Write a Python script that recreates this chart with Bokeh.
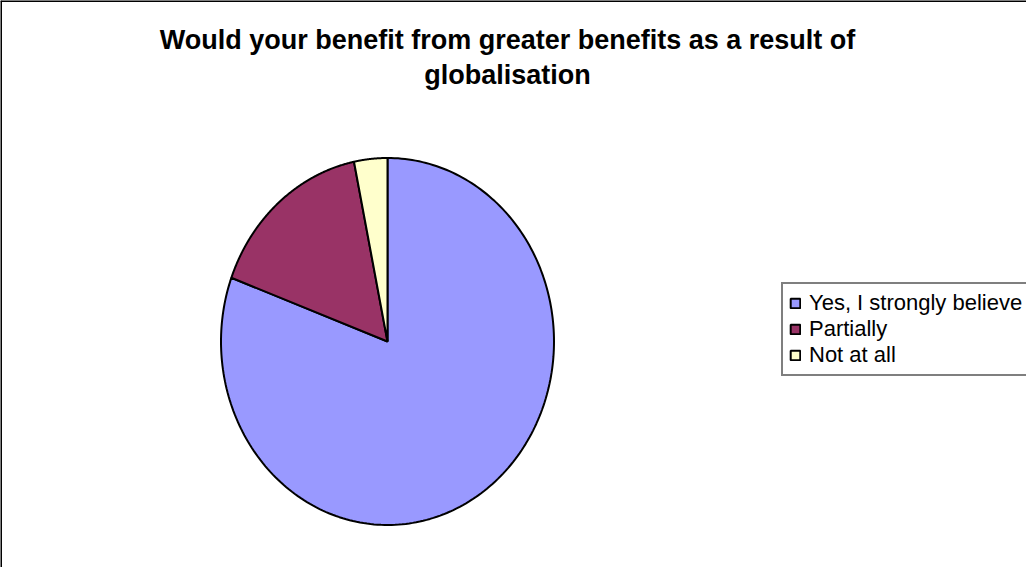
import numpy as np
from bokeh.plotting import figure
from bokeh.models import Range1d, Label, Span, Legend, LegendItem
from bokeh.embed import file_html
from bokeh.resources import INLINE

# ---- data ----
categories = ["Yes, I strongly believe", "Partially", "Not at all"]
counts = [25, 5, 1]
colors = ["#9999FF", "#993366", "#FFFFCC"]
title_lines = ["Would your benefit from greater benefits as a result of", "globalisation"]

W, H = 1026, 567
p = figure(width=W, height=H, x_range=Range1d(0, W), y_range=Range1d(H, 0),
           output_backend="svg", toolbar_location=None, min_border=0)
p.axis.visible = False
p.grid.visible = False
p.outline_line_color = None
p.background_fill_color = "white"
p.border_fill_color = "white"

# chart frame (left and top edges visible)
p.add_layout(Span(location=0.5, dimension="height", line_color="black", line_width=2))
p.add_layout(Span(location=0.5, dimension="width", line_color="black", line_width=2))

# elliptical pie, clockwise from 12 o'clock
cx, cy, rx, ry = 387, 341, 166.5, 183.5
total = float(sum(counts))
fr = np.cumsum([0] + counts) / total
renderers = []
for i, cat in enumerate(categories):
    t = np.linspace(fr[i], fr[i + 1], 240) * 2 * np.pi
    xs = np.concatenate([[cx], cx + rx * np.sin(t), [cx]])
    ys = np.concatenate([[cy], cy - ry * np.cos(t), [cy]])
    r = p.patch(xs, ys, fill_color=colors[i], line_color="black", line_width=2)
    renderers.append(r)

# title
for k, line in enumerate(title_lines):
    p.add_layout(Label(x=507, y=39 + 35 * k, text=line, text_align="center",
                       text_baseline="middle", text_font="Liberation Sans",
                       text_font_style="bold", text_font_size="27px", text_color="black"))

legend = Legend(items=[LegendItem(label=c, renderers=[r]) for c, r in zip(categories, renderers)],
                location=(781, 191), orientation="vertical",
                border_line_color="black", border_line_width=2,
                background_fill_color="white", background_fill_alpha=1.0,
                label_text_font="Liberation Sans", label_text_font_size="22px",
                label_text_color="black", glyph_width=12, glyph_height=12,
                label_standoff=8, spacing=0, padding=6, margin=0, label_height=25,
                label_width=240)
p.add_layout(legend)

open("out.html", "w").write(file_html(p, INLINE))
